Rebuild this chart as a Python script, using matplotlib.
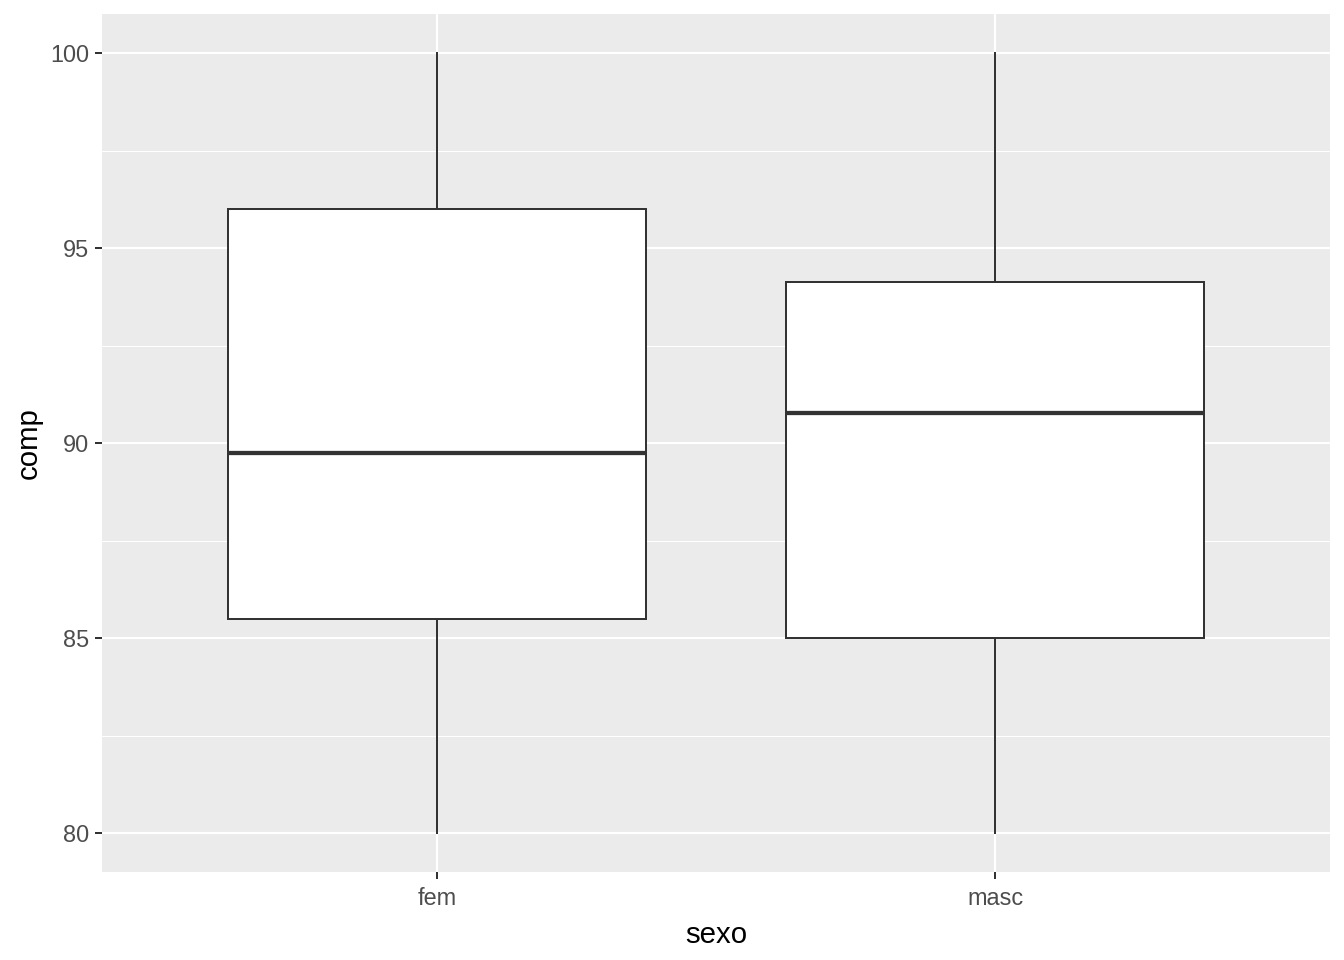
import matplotlib
matplotlib.use("Agg")
import matplotlib.pyplot as plt
from matplotlib.ticker import MultipleLocator

# boxplot stats
grupos = ["fem", "masc"]
minimo = [80.0, 80.0]
q1 = [85.5, 85.0]
mediana = [89.75, 90.77]
q3 = [96.0, 94.13]
maximo = [100.0, 100.0]

plt.rcParams['font.family'] = ['Liberation Sans', 'DejaVu Sans']

fig = plt.figure(figsize=(7, 5), dpi=192)
W, H = 1344, 960
ax = fig.add_axes([102 / W, (H - 872) / H, (1330 - 102) / W, (872 - 14) / H])
ax.set_facecolor("#EBEBEB")

stats = []
for i, g in enumerate(grupos):
    stats.append(dict(label=g, whislo=minimo[i], q1=q1[i], med=mediana[i],
                      q3=q3[i], whishi=maximo[i], fliers=[]))

ax.bxp(stats, positions=[1, 2], widths=0.75, patch_artist=True, showcaps=False,
       boxprops=dict(facecolor="white", edgecolor="#333333", linewidth=0.75),
       whiskerprops=dict(color="#333333", linewidth=0.75),
       medianprops=dict(color="#333333", linewidth=1.6, solid_capstyle="butt"),
       zorder=3)

ax.set_xlim(0.4, 2.6)
ax.set_ylim(79, 101)
ax.yaxis.set_major_locator(MultipleLocator(5))
ax.yaxis.set_minor_locator(MultipleLocator(2.5))
ax.set_xticks([1, 2])
ax.set_xticklabels(grupos)

ax.grid(which="major", color="white", linewidth=0.8, zorder=0)
ax.grid(which="minor", axis="y", color="white", linewidth=0.4, zorder=0)
ax.set_axisbelow(True)

for s in ax.spines.values():
    s.set_visible(False)
ax.tick_params(which="major", length=2.75, width=0.75, color="#333333",
               labelcolor="#4D4D4D", labelsize=8.8)
ax.tick_params(axis="x", which="major", pad=3.0)
ax.tick_params(axis="y", which="major", pad=2.2)
ax.tick_params(which="minor", length=0)

ax.set_xlabel("sexo", fontsize=11, color="black", labelpad=4)
ax.set_ylabel("comp", fontsize=11, color="black", labelpad=2.5)

fig.savefig("out.png", dpi=192, facecolor="white")
